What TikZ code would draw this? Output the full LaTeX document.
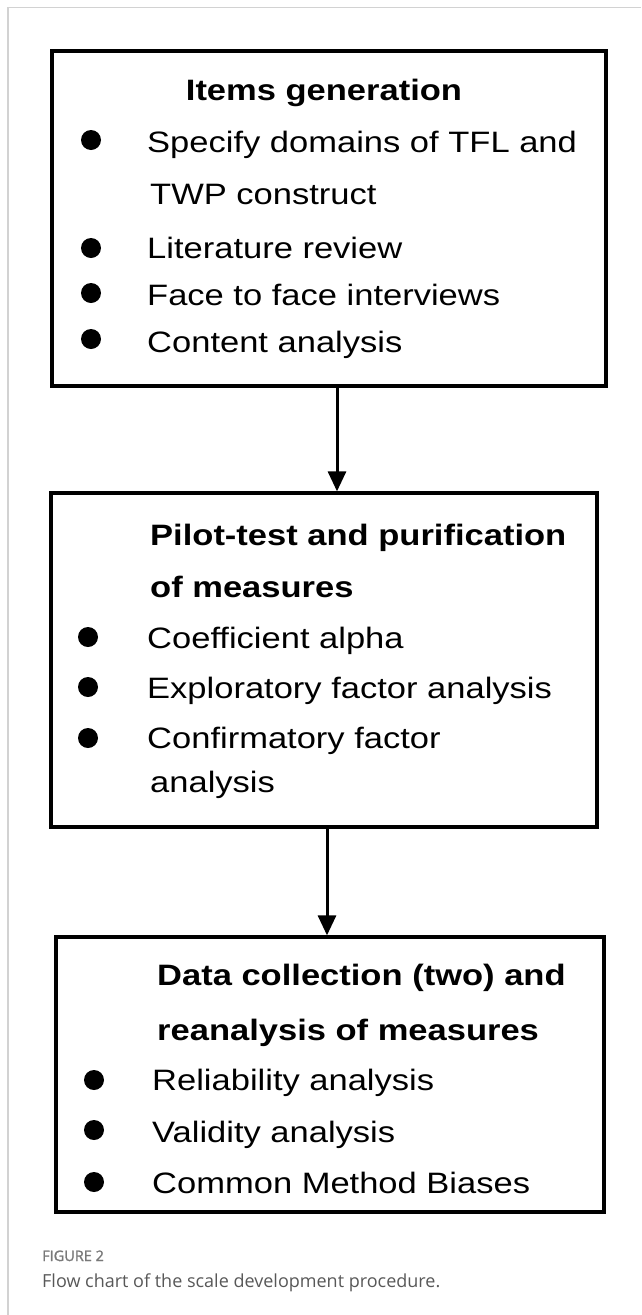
\documentclass[tikz,border=0pt]{standalone}
\usepackage{fontspec}
\usepackage{xcolor}
\usepackage{tikz}
\usetikzlibrary{positioning}
\usetikzlibrary{arrows.meta}
\newfontfamily\boxfont{Liberation Sans}[FakeStretch=1.17]
\newfontfamily\capfont{Open Sans}
\newfontfamily\labfont{Open Sans}[FakeBold=1.6]
\definecolor{framegray}{RGB}{210,210,210}
\definecolor{capgray}{RGB}{88,88,88}
\definecolor{labgray}{RGB}{120,120,120}
\tikzstyle{stage} = [rectangle, draw=black, line width=3.3pt, inner sep=0pt]
\tikzstyle{head} = [anchor=base west, inner sep=0pt, font=\boxfont\fontsize{29.5}{35}\selectfont\bfseries]
\tikzstyle{item} = [anchor=base west, inner sep=0pt, font=\boxfont\fontsize{29.5}{35}\selectfont]
\tikzstyle{flowarrow} = [line width=3pt, -{Triangle[width=18pt,length=20pt]}]

\begin{document}
\begin{tikzpicture}[x=1pt,y=-1pt]
      \useasboundingbox (0,0) rectangle (641,1315);
      \draw[framegray, line width=1.5pt] (8,1315)--(8,7.5)--(641,7.5);
      %%%%%%%%%%%%%%%%%%%%%%%%%%%%%%%%%%%%%%%
      \draw (329,218.5) node (b1) [stage, minimum width=554pt, minimum height=335pt] {};
      \draw (324,660) node (b2) [stage, minimum width=546pt, minimum height=334pt] {};
      \draw (330,1074.5) node (b3) [stage, minimum width=548pt, minimum height=275pt] {};
      \draw[flowarrow] ([xshift=8pt]b1.south)--([xshift=8pt]b1.south |- b2.north);
      \draw[flowarrow] ([xshift=3pt]b2.south)--([xshift=3pt]b2.south |- b3.north);
      %% box 1
      \draw (324,100) node (h1) [head, anchor=base] {Items generation};
      \draw (147,152) node (t11) [item] {Specify domains of TFL and};
      \draw (150,204) node (t12) [item] {TWP construct};
      \draw (147,258) node (t13) [item] {Literature review};
      \draw (147,305) node (t14) [item] {Face to face interviews};
      \draw (147,352) node (t15) [item] {Content analysis};
      \fill (91,140) circle(10);
      \fill (91,248) circle(10);
      \fill (91,293) circle(10);
      \fill (91,339) circle(10);
      %% box 2
      \draw (150,545) node (h21) [head] {Pilot-test and purification};
      \draw (150,597) node (h22) [head] {of measures};
      \draw (147,648) node (t21) [item] {Coefficient alpha};
      \draw (147,698) node (t22) [item] {Exploratory factor analysis};
      \draw (147,748) node (t23) [item] {Confirmatory factor};
      \draw (150,792) node (t24) [item] {analysis};
      \fill (88,637) circle(10);
      \fill (88,687) circle(10);
      \fill (88,738) circle(10);
      %% box 3
      \draw (157,985) node (h31) [head] {Data collection (two) and};
      \draw (157,1040) node (h32) [head] {reanalysis of measures};
      \draw (152,1090) node (t31) [item] {Reliability analysis};
      \draw (152,1142) node (t32) [item] {Validity analysis};
      \draw (152,1193) node (t33) [item] {Common Method Biases};
      \fill (94,1080) circle(10);
      \fill (94,1130) circle(10);
      \fill (94,1182) circle(10);
      %% caption
      \draw (42,1261) node (fig) [anchor=base west, inner sep=0pt, text=labgray, font=\labfont\fontsize{14.5}{17}\selectfont] {FIGURE 2};
      \draw (42,1287) node (cap) [anchor=base west, inner sep=0pt, text=capgray, font=\capfont\fontsize{18}{22}\selectfont] {Flow chart of the scale development procedure.};
\end{tikzpicture}
\end{document}
